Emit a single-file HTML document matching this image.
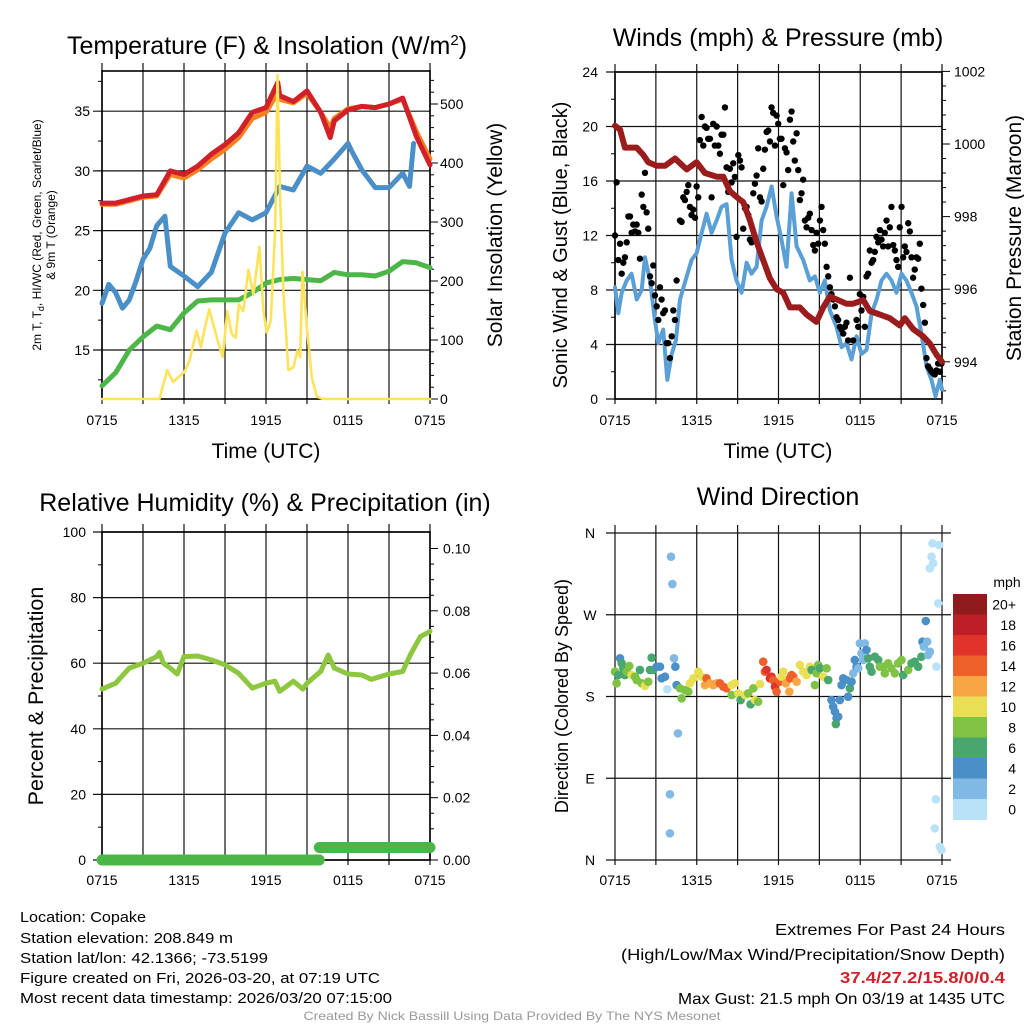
<!DOCTYPE html>
<html><head><meta charset="utf-8"><style>
html,body{margin:0;padding:0;background:#fff;}
svg{display:block;font-family:"Liberation Sans",Arial,sans-serif;}
</style></head><body>
<svg id="fig" width="1024" height="1024" viewBox="0 0 1024 1024" xmlns="http://www.w3.org/2000/svg">
<rect x="0" y="0" width="1024" height="1024" fill="#fff"/>
<g id="p1"></g>
<g id="p2"></g>
<g id="p3"></g>
<g id="p4"></g>
<g id="txt">
<text x="20" y="922" font-size="15" textLength="126" lengthAdjust="spacingAndGlyphs">Location: Copake</text>
<text x="20" y="943" font-size="15" textLength="213" lengthAdjust="spacingAndGlyphs">Station elevation: 208.849 m</text>
<text x="20" y="963" font-size="15" textLength="248" lengthAdjust="spacingAndGlyphs">Station lat/lon: 42.1366; -73.5199</text>
<text x="20" y="983" font-size="15" textLength="360" lengthAdjust="spacingAndGlyphs">Figure created on Fri, 2026-03-20, at 07:19 UTC</text>
<text x="20" y="1003" font-size="15" textLength="372" lengthAdjust="spacingAndGlyphs">Most recent data timestamp: 2026/03/20 07:15:00</text>
<text x="1005" y="935" font-size="16" text-anchor="end" textLength="230" lengthAdjust="spacingAndGlyphs">Extremes For Past 24 Hours</text>
<text x="1005" y="960" font-size="16" text-anchor="end" textLength="384" lengthAdjust="spacingAndGlyphs">(High/Low/Max Wind/Precipitation/Snow Depth)</text>
<text x="1005" y="983" font-size="16" font-weight="bold" fill="#d0202a" text-anchor="end" textLength="165" lengthAdjust="spacingAndGlyphs">37.4/27.2/15.8/0/0.4</text>
<text x="1005" y="1004" font-size="16" text-anchor="end" textLength="327" lengthAdjust="spacingAndGlyphs">Max Gust: 21.5 mph On 03/19 at 1435 UTC</text>
<text x="512" y="1020" font-size="12" fill="#999" text-anchor="middle" textLength="417" lengthAdjust="spacingAndGlyphs">Created By Nick Bassill Using Data Provided By The NYS Mesonet</text>
</g>
</svg>
<script>
// ---------- Panel 1 data ----------
const tempTimes=[0,1,2,3,4,5,6,7,8,9,10,11,12,12.86,13,14,15,16,16.7,17,18,19,20,21,22,23,24];
const tempVals=[27.3,27.3,27.6,27.9,28.0,30.0,29.7,30.4,31.4,32.2,33.2,34.9,35.3,37.4,36.3,35.8,36.7,34.9,32.8,34.2,35.1,35.4,35.3,35.6,36.1,32.9,30.5];
const temp9mVals=[27.2,27.2,27.5,27.8,27.9,29.7,29.4,30.1,31.0,31.8,32.8,34.4,34.9,36.6,36.0,35.7,36.5,34.9,33.6,34.4,35.2,35.4,35.3,35.6,36.0,33.3,31.0];
const dewTimes=[0,0.5,1,1.5,2,2.5,3,3.5,4,4.6,5,6,7,8,9,10,11,12,13,14,15,16,17,18,18.3,19,20,21,22,22.5,22.8];
const dewVals=[18.9,20.5,19.8,18.5,19.2,20.8,22.6,23.5,25.4,26.2,22.0,21.2,20.3,21.5,24.8,26.5,25.9,26.5,28.7,28.4,30.4,29.8,31.0,32.3,31.6,30.1,28.6,28.6,29.8,28.7,32.3];
const hiTimes=[0,1,2,3,4,5,6,7,8,9,10,11,12,13,14,15,16,17,18,19,20,21,22,23,24];
const hiVals=[12.0,13.1,15.0,16.1,17.0,16.7,18.1,19.1,19.2,19.2,19.2,19.8,20.6,20.9,21.0,20.9,20.8,21.5,21.3,21.3,21.2,21.6,22.4,22.3,21.9];
const solarTimes=[0,4.2,4.77,5.2,6.04,6.4,6.92,7.24,7.53,7.85,8.4,8.83,9.17,9.49,9.78,10.02,10.34,10.71,11.08,11.52,11.81,12.05,12.35,12.67,12.84,13.03,13.28,13.64,14.01,14.3,14.5,14.67,14.99,15.35,15.72,16.2,24];
const solarVals=[0,0,49,29,46,65,116,88,121,152,104,71,149,110,104,160,149,219,177,258,149,113,132,289,549,345,177,49,54,82,71,216,121,37,4,0,0];
const leftTicks1=[15,20,25,30,35];
const rightTicks1=[0,100,200,300,400,500];
const timeLabels=["0715","1315","1915","0115","0715"];
const timeTickHours=[0,6,12,18,24];
const gridHours=[3,6,9,12,15,18,21];
// ---------- Panel 2 data ----------
const presTimes=[0,0.37,0.73,1.1,1.59,2.08,2.44,3.06,3.67,4.4,5.26,5.99,6.6,7.46,7.95,8.43,9.05,9.41,9.9,10.39,10.88,11.37,11.86,12.35,12.84,13.57,14.06,14.79,15.28,15.77,16.38,16.99,17.48,18.22,18.7,19.44,20.17,20.9,21.27,21.88,22.62,23.11,23.59,24];
const presVals=[1000.5,1000.4,999.9,999.9,999.9,999.7,999.5,999.4,999.4,999.6,999.3,999.5,999.2,999.1,999.1,998.7,998.5,998.4,997.9,997.3,996.8,996.3,996.0,995.9,995.5,995.5,995.3,995.1,995.5,995.8,995.7,995.6,995.6,995.7,995.4,995.3,995.2,995.0,995.2,994.9,994.7,994.5,994.2,994.0];
const windTimes=[0,0.24,0.49,0.86,1.22,1.59,1.96,2.2,2.57,2.93,3.18,3.54,3.84,4.16,4.47,4.77,5.26,5.62,5.99,6.36,6.72,7.09,7.46,7.82,8.19,8.56,8.92,9.29,9.66,10.02,10.39,10.76,11.12,11.49,11.86,12.22,12.59,12.96,13.33,13.81,14.3,14.67,15.04,15.4,15.77,16.26,16.63,16.99,17.36,17.73,18.09,18.46,18.83,19.2,19.56,19.93,20.29,20.66,21.03,21.39,21.76,22.13,22.49,22.86,23.23,23.52,23.84,24];
const windVals=[8.2,6.3,7.8,8.7,9.2,7.3,8.0,10.4,8.7,5.8,4.1,5.1,1.4,3.3,4.3,7.3,9.0,10.2,10.7,12.2,13.6,12.2,13.1,14.1,14.3,10.2,8.7,7.8,10.0,9.2,9.7,13.1,14.1,15.6,13.4,11.7,9.7,15.1,11.2,10.2,8.7,9.0,7.8,8.7,6.5,5.3,3.8,4.1,2.9,4.6,3.3,3.6,6.3,7.3,8.7,9.2,8.7,7.8,9.2,8.7,7.8,6.8,4.8,2.4,1.4,0.2,1.4,0.7];
const gustTimes=[0,0.12,0.24,0.37,0.49,0.61,0.73,0.86,0.98,1.10,1.22,1.34,1.47,1.59,1.71,1.83,1.96,2.08,2.20,2.32,2.44,2.57,2.69,2.81,2.93,3.06,3.18,3.30,3.42,3.54,3.67,3.79,3.91,4.03,4.16,4.28,4.40,4.52,4.77,4.89,5.01,5.13,5.26,5.38,5.50,5.62,5.74,5.87,5.99,6.11,6.23,6.36,6.48,6.60,6.72,6.84,6.97,7.09,7.21,7.33,7.46,7.58,7.70,7.82,7.95,8.07,8.19,8.31,8.43,8.56,8.68,8.80,8.92,9.05,9.17,9.29,9.41,9.54,9.66,9.78,9.90,10.02,10.15,10.27,10.39,10.51,10.64,10.76,10.88,11.00,11.13,11.25,11.37,11.49,11.61,11.74,11.86,11.98,12.10,12.22,12.35,12.47,12.59,12.71,12.84,12.96,13.08,13.20,13.33,13.45,13.57,13.69,13.81,13.94,14.06,14.18,14.30,14.43,14.55,14.67,14.79,14.91,15.04,15.16,15.28,15.40,15.53,15.65,15.77,15.89,16.01,16.14,16.26,16.38,16.50,16.63,16.75,16.87,16.99,17.11,17.24,17.48,17.73,17.85,17.97,18.09,18.22,18.34,18.46,18.58,18.70,18.83,18.95,19.07,19.19,19.32,19.44,19.56,19.68,19.80,19.93,20.05,20.17,20.29,20.42,20.54,20.66,20.78,20.90,21.03,21.15,21.27,21.39,21.52,21.64,21.76,21.88,22.00,22.13,22.25,22.37,22.49,22.62,22.74,22.86,22.98,23.11,23.23,23.35,23.47,23.59,23.72,23.84,23.96];
const gustVals=[12.0,15.9,10.2,11.4,9.2,10.0,10.4,11.5,13.4,13.4,12.2,12.8,12.3,12.8,12.2,10.3,15.0,14.1,16.6,13.7,12.5,9.0,8.5,9.8,7.6,6.8,5.8,8.2,7.3,6.3,6.5,4.1,4.1,3.0,4.6,6.5,5.8,8.7,13.1,13.0,14.8,14.6,15.2,15.7,14.1,13.5,13.9,13.3,15.6,14.8,19.0,20.7,18.6,20.0,19.9,19.1,19.1,14.8,20.2,18.6,20.0,18.6,18.0,19.4,19.4,21.4,17.0,15.2,16.9,15.9,17.3,16.3,11.9,17.9,17.5,17.0,12.5,14.0,14.1,13.5,11.7,11.5,15.1,15.8,16.4,18.4,14.8,14.5,16.9,18.3,19.6,19.7,18.9,21.4,21.0,18.6,20.8,20.2,19.1,19.1,15.7,18.4,18.1,16.8,20.5,21.1,18.9,17.5,19.5,16.8,14.6,15.1,16.1,13.1,12.6,13.3,13.6,12.4,11.3,10.9,12.2,11.4,13.1,14.1,12.4,11.4,9.7,9.0,8.2,7.7,7.3,6.8,6.0,5.8,5.3,5.1,4.8,5.3,5.6,4.3,8.9,4.3,5.8,5.3,7.7,6.5,7.5,5.3,9.0,9.2,10.9,10.0,10.2,10.8,11.9,11.5,12.4,11.7,11.2,12.2,13.1,11.2,12.6,14.1,11.3,10.9,10.2,9.7,12.6,14.1,10.4,11.2,10.8,12.9,12.3,10.4,8.9,9.5,10.4,10.3,11.4,8.1,6.9,5.6,3.0,2.4,2.2,2.0,1.9,1.8,2.1,2.6,2.0,2.6];
const windTicks=[0,4,8,12,16,20,24];
const presTicks=[994,996,998,1000,1002];
// ---------- Panel 3 data ----------
const rhTimes=[0,1,2,3,4,4.2,4.5,5,5.5,6,7,8,9,10,11,12,12.65,13,14,14.7,15,16,16.55,17,18,19,19.7,21,22,22.55,23.3,24];
const rhVals=[52.1,53.9,58.5,60.0,62.0,63.3,60.0,58.5,56.7,62.0,62.2,61.0,59.5,56.9,52.4,53.9,54.5,51.4,54.5,52.1,53.9,57.5,62.5,58.5,56.7,56.4,55.1,56.7,57.5,62.5,68.1,69.7];
const precipTimes=[0,15.9,24];
const precipVals=[0,0.004,0.004];
const rhTicks=[0,20,40,60,80,100];
const precipTicks=[0,0.02,0.04,0.06,0.08,0.10];
const precipLabels=["0.00","0.02","0.04","0.06","0.08","0.10"];
// ---------- Panel 4 data ----------
const dirTimes=[0,0.12,0.24,0.37,0.49,0.61,0.73,0.86,1.05,1.22,1.47,1.59,1.83,1.96,2.20,2.44,2.57,2.69,2.81,3.06,3.30,3.42,3.67,3.84,4.11,4.21,4.03,4.03,4.33,4.43,4.52,4.62,4.77,4.89,5.13,5.38,5.50,5.75,6.11,6.36,6.60,6.72,6.97,7.21,7.46,7.70,7.95,8.19,8.56,8.80,8.56,9.05,9.22,9.54,9.78,9.95,10.15,10.27,10.51,10.64,10.88,11.00,11.12,11.37,11.49,11.61,11.74,11.86,12.10,12.22,12.35,12.54,12.79,12.84,12.96,13.08,13.33,13.57,13.81,14.06,14.30,14.43,14.67,14.79,14.91,15.04,15.28,15.53,15.65,15.89,16.01,16.14,16.26,16.21,16.38,16.50,16.63,16.75,16.99,17.11,17.24,17.36,17.48,17.60,17.73,17.85,17.97,18.09,18.22,18.34,18.46,18.58,18.70,18.83,19.07,19.32,19.44,19.68,19.80,20.05,20.29,20.54,20.78,21.03,21.15,21.52,21.76,22.00,22.25,22.49,22.57,22.67,22.81,22.91,22.98,23.11,23.11,23.23,23.35,23.30,23.79,23.72,23.59,23.55,23.47,23.84,23.96];
const dirVals=[207.3,194.5,203.6,222.0,216.5,211.0,203.6,207.3,213.6,203.6,201.8,198.1,209.2,194.5,191.6,196.3,209.2,222.7,209.2,212.8,212.8,200.0,201.8,187.9,333.9,303.8,72.3,29.3,222.0,212.8,192.6,139.4,189.0,178.0,187.1,185.3,194.5,200.0,207.3,201.8,192.6,200.0,194.5,192.6,194.5,194.5,190.8,189.0,192.6,194.5,181.6,183.5,176.1,181.6,183.5,171.4,189.0,176.1,174.3,193.7,218.3,207.3,209.2,200.0,201.8,198.1,190.8,185.3,196.3,201.8,207.3,194.5,185.3,200.0,203.6,201.8,196.3,214.7,207.3,203.6,212.8,209.2,192.6,205.5,214.7,211.0,201.8,211.0,198.1,176.1,168.8,163.3,156.0,149.7,157.8,176.1,192.6,200.0,198.1,179.8,189.0,196.3,205.5,220.2,212.8,211.0,238.5,227.5,220.2,238.5,231.2,222.0,212.8,207.3,223.8,220.2,212.8,212.8,205.5,216.5,211.0,205.5,216.5,220.2,203.6,209.2,216.5,218.3,212.8,223.8,240.3,234.8,263.1,240.3,225.7,229.3,321.1,333.9,326.6,348.6,346.8,282.5,212.8,66.8,34.8,14.6,11.0];
const dirSpeeds=[9,9,7,5,7,7,7,9,9,11,9,9,7,9,11,9,7,7,7,5,5,5,5,1,3,3,3,3,3,5,5,3,9,9,9,9,11,11,11,11,13,15,13,13,13,15,15,15,11,11,9,11,7,11,9,7,9,11,9,11,15,15,17,17,17,15,17,15,15,11,11,13,13,15,15,15,13,11,11,11,11,7,9,9,9,7,11,9,7,5,5,5,5,7,5,5,5,5,5,5,7,5,3,5,5,3,3,3,3,3,5,7,7,7,7,7,9,9,9,9,9,9,9,9,7,9,7,7,7,7,5,3,5,3,3,3,1,1,1,1,1,1,1,1,1,1,1];
const dirTicks=[0,90,180,270,360];
const dirLabels=["N","E","S","W","N"];
const speedBins=[0,2,4,6,8,10,12,14,16,18,20];
const speedLabels=["0","2","4","6","8","10","12","14","16","18","20+"];
const speedColors=["#b8e2f8","#7fb9e4","#4a8fc8","#48a66e","#7fc244","#e8df55","#f7a643","#ef612b","#e0332a","#be1e25","#911a1d"];

const NS="http://www.w3.org/2000/svg";
function mk(parent,tag,attrs,text){const e=document.createElementNS(NS,tag);for(const k in attrs)e.setAttribute(k,attrs[k]);if(text!==undefined)e.textContent=text;parent.appendChild(e);return e;}
function poly(parent,xs,ys,stroke,w,name){
  let d="";for(let i=0;i<xs.length;i++)d+=(i?"L":"M")+xs[i].toFixed(1)+","+ys[i].toFixed(1);
  const p=mk(parent,"path",{d:d,fill:"none",stroke:stroke,"stroke-width":w,"stroke-linejoin":"round","stroke-linecap":"round"});
  
  
  return p;
}
function colorFor(s){let idx=0;for(let i=0;i<speedBins.length;i++)if(s>=speedBins[i])idx=i;return speedColors[idx];}

function frame(g,L,R,T,B,xOf,hy){
  hy.forEach(y=>{const l=mk(g,"line",{x1:L-9,x2:R,y1:y,y2:y,stroke:"#111","stroke-width":1.2});
    
    });
  gridHours.concat([0,24]).forEach(h=>{const x=xOf(h);const l=mk(g,"line",{x1:x,x2:x,y1:T-8,y2:B+5,stroke:"#111","stroke-width":1.2});
    
    });
  const r=mk(g,"rect",{x:L,y:T,width:R-L,height:B-T,fill:"none",stroke:"#000","stroke-width":1.6});
  
  
}
function xLabels(g,xOf,y){
  timeTickHours.forEach((h,i)=>{const t=mk(g,"text",{x:xOf(h),y:y,"font-size":14,"text-anchor":"middle"},timeLabels[i]);
    
    });
}
function label(g,x,y,size,txt,anchor,rot,name){
  const a={x:x,y:y,"font-size":size,"text-anchor":anchor||"middle"};
  if(rot)a.transform="rotate(-90 "+x+" "+y+")";
  const t=mk(g,"text",a,txt);
  
  
  return t;
}

// ===== Panel 1 =====
(function(){
  const g=document.getElementById("p1");
  const L=102,R=430,T=71,B=399;
  const x=h=>L+h*(R-L)/24;
  const yL=v=>350-(v-15)*11.94;
  const yR=v=>B-v*0.59;
  frame(g,L,R,T,B,x,leftTicks1.map(yL));
  for(let v=12.5;v<=38;v+=2.5){if(v%5!==0)mk(g,"line",{x1:L-4,x2:L,y1:yL(v),y2:yL(v),stroke:"#000"});}
  for(let v=0;v<=550;v+=20){const y=yR(v);mk(g,"line",{x1:R,x2:R+(v%100===0?8:4),y1:y,y2:y,stroke:"#000"});}
  leftTicks1.forEach(v=>label(g,90,yL(v)+5,14,String(v),"end",false,"left-tick-label"));
  rightTicks1.forEach(v=>label(g,440,yR(v)+5,14,String(v),"start",false,"right-tick-label"));
  poly(g,tempTimes.map(x),temp9mVals.map(yL),"#f58220",5,"temp-9m-line");
  poly(g,tempTimes.map(x),tempVals.map(yL),"#d2202a",5,"temp-2m-line");
  poly(g,dewTimes.map(x),dewVals.map(yL),"#4b8fc8",5,"dewpoint-line");
  poly(g,hiTimes.map(x),hiVals.map(yL),"#4cb748",5,"heat-index-line");
  poly(g,solarTimes.map(x),solarVals.map(yR),"#fde35c",2.6,"solar-line");
  xLabels(g,x,425);
  label(g,267,54,25,"","middle",false,"chart-title-1").innerHTML='Temperature (F) &amp; Insolation (W/m<tspan dy="-9" font-size="15">2</tspan><tspan dy="9">)</tspan>';
  label(g,266,458,21,"Time (UTC)","middle",false,"x-axis-title-1");
  label(g,502,235,21,"Solar Insolation (Yellow)","middle",true,"right-axis-title-1");
  const t=label(g,41,235,12,"","middle",true,"left-axis-title-1");
  t.innerHTML='2m T, T<tspan dy="3" font-size="9">d</tspan><tspan dy="-3">, HI/WC (Red, Green, Scarlet/Blue)</tspan>';
  label(g,55,235,12,"& 9m T (Orange)","middle",true,"left-axis-title-1b");
})();

// ===== Panel 2 =====
(function(){
  const g=document.getElementById("p2");
  const L=615,R=942,T=72,B=399;
  const x=h=>L+h*(R-L)/24;
  const yW=v=>B-v*(B-T)/24;
  const yP=v=>144-(v-1000)*36.3;
  frame(g,L,R,T,B,x,windTicks.map(yW));
  for(let v=2;v<24;v+=4)mk(g,"line",{x1:L-4,x2:L,y1:yW(v),y2:yW(v),stroke:"#000"});
  for(let p=993.2;p<=1002;p+=0.4){const y=yP(p);const maj=Math.abs(p-Math.round(p))<0.05&&Math.round(p)%2===0;mk(g,"line",{x1:R,x2:R+(maj?8:4),y1:y,y2:y,stroke:"#000"});}
  windTicks.forEach(v=>label(g,598,yW(v)+5,14,String(v),"end",false,"left-tick-label"));
  presTicks.forEach(v=>label(g,954,yP(v)+5,14,String(v),"start",false,"right-tick-label"));
  poly(g,windTimes.map(x),windVals.map(yW),"#5a9fd6",4,"sonic-wind-line");
  gustTimes.forEach((h,i)=>{const c=mk(g,"circle",{cx:x(h),cy:yW(gustVals[i]),r:3.2,fill:"#000"});
    
    });
  poly(g,presTimes.map(x),presVals.map(yP),"#9b1c1c",6,"pressure-line");
  xLabels(g,x,425);
  label(g,778,46,25,"Winds (mph) & Pressure (mb)","middle",false,"chart-title-2");
  label(g,778,458,21,"Time (UTC)","middle",false,"x-axis-title-2");
  label(g,567,245,20,"Sonic Wind & Gust (Blue, Black)","middle",true,"left-axis-title-2");
  label(g,1021,238,21,"Station Pressure (Maroon)","middle",true,"right-axis-title-2");
})();

// ===== Panel 3 =====
(function(){
  const g=document.getElementById("p3");
  const L=102,R=430,T=532,B=860;
  const x=h=>L+h*(R-L)/24;
  const yRH=v=>B-v*3.28;
  const yPr=v=>B-v*3115;
  frame(g,L,R,T,B,x,rhTicks.map(yRH));
  for(let v=10;v<100;v+=20)mk(g,"line",{x1:L-4,x2:L,y1:yRH(v),y2:yRH(v),stroke:"#000"});
  for(let v=0;v<=0.105;v+=0.005){const y=yPr(v);const maj=Math.abs(v/0.02-Math.round(v/0.02))<0.01;mk(g,"line",{x1:R,x2:R+(maj?8:4),y1:y,y2:y,stroke:"#000"});}
  rhTicks.forEach(v=>label(g,86,yRH(v)+5,14,String(v),"end",false,"left-tick-label"));
  precipTicks.forEach((v,i)=>label(g,443,yPr(v)+5,14,precipLabels[i],"start",false,"right-tick-label"));
  poly(g,rhTimes.map(x),rhVals.map(yRH),"#8dc63f",5,"humidity-line");
  for(let i=0;i<precipTimes.length-1;i++){
    poly(g,[x(precipTimes[i]),x(precipTimes[i+1])],[yPr(precipVals[i]),yPr(precipVals[i])],"#4ab648",11,"precip-segment");
  }
  xLabels(g,x,885);
  label(g,265,511,25,"Relative Humidity (%) & Precipitation (in)","middle",false,"chart-title-3");
  label(g,43,696,21.5,"Percent & Precipitation","middle",true,"left-axis-title-3");
})();

// ===== Panel 4 =====
(function(){
  const g=document.getElementById("p4");
  const L=615,R=942,T=533,B=860;
  const x=h=>L+h*(R-L)/24;
  const yD=v=>B-v*(B-T)/360;
  dirTicks.forEach(v=>{const l=mk(g,"line",{x1:L-9,x2:951,y1:yD(v),y2:yD(v),stroke:"#111","stroke-width":1.2});
    
    });
  gridHours.concat([0,24]).forEach(h=>{const l=mk(g,"line",{x1:x(h),x2:x(h),y1:T-8,y2:B+5,stroke:"#111","stroke-width":1.2});
    
    });
  dirTicks.forEach((v,i)=>label(g,590,yD(v)+5,14,dirLabels[i],"middle",false,"direction-tick-label"));
  dirTimes.forEach((h,i)=>{const c=mk(g,"circle",{cx:x(h),cy:yD(dirVals[i]),r:4.3,fill:colorFor(dirSpeeds[i])});
    
    });
  xLabels(g,x,885);
  label(g,778,505,25,"Wind Direction","middle",false,"chart-title-4");
  label(g,568,696,18,"Direction (Colored By Speed)","middle",true,"left-axis-title-4");
  const cbT=594,cbH=20.5;
  for(let i=0;i<speedColors.length;i++){
    const k=speedColors.length-1-i;
    const r=mk(g,"rect",{x:953,y:cbT+i*cbH,width:34,height:cbH+0.5,fill:speedColors[k]});
    
    
    label(g,1016,cbT+i*cbH+cbH/2+5,14,speedLabels[k],"end",false,"colorbar-label");
  }
  label(g,1007,587,14,"mph","middle",false,"colorbar-title");
})();
</script>
</body></html>
